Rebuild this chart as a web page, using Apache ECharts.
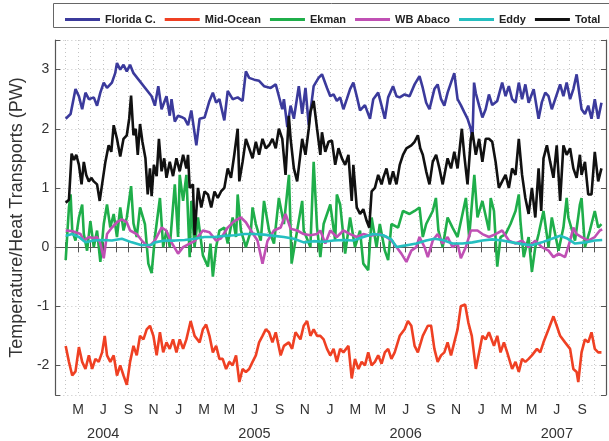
<!DOCTYPE html>
<html>
<head>
<meta charset="utf-8">
<script src="https://cdn.jsdelivr.net/npm/echarts@6/dist/echarts.min.js"></script>
<style>
  html, body { margin: 0; padding: 0; background: #fff; }
  #chart { width: 609px; height: 441px; }
</style>
</head>
<body>
<div id="chart"></div>
<script>
// time axis: months since 1 Jan 2004 (tick = month)
const monthLetters = ["J", "F", "M", "A", "M", "J", "J", "A", "S", "O", "N", "D"];
const yearTicks = { 6: "2004", 18: "2005", 30: "2006", 42: "2007" };
const yTickLabels = [-2, -1, 0, 1, 2, 3];
const seriesNames = ["Florida C.", "Mid-Ocean", "Ekman", "WB Abaco", "Eddy", "Total"];

// [month, PW]
const florida = [[3.02,2.17],[3.41,2.25],[3.80,2.67],[4.07,2.55],[4.33,2.33],[4.59,2.61],[4.86,2.5],[5.25,2.53],[5.51,2.39],[5.77,2.61],[6.04,2.78],[6.30,2.69],[6.69,2.78],[6.95,2.94],[7.09,3.11],[7.35,3.0],[7.61,3.08],[7.87,2.97],[8.13,3.08],[8.40,2.94],[9.84,2.55],[10.10,2.39],[10.37,2.72],[10.63,2.33],[11.02,2.55],[11.28,2.22],[11.42,2.5],[11.68,2.12],[11.94,2.22],[12.20,2.2],[12.46,2.17],[12.73,2.06],[12.99,2.31],[13.39,1.72],[13.65,2.17],[14.04,2.19],[14.43,2.47],[14.70,2.61],[14.96,2.44],[15.22,2.5],[15.61,2.14],[15.88,2.64],[16.27,2.5],[16.67,2.53],[17.06,2.47],[17.32,2.97],[17.58,2.86],[17.98,2.83],[18.37,2.81],[18.76,2.72],[19.29,2.69],[19.69,2.75],[19.94,2.55],[20.21,2.33],[20.34,2.5],[20.61,2.03],[20.87,2.39],[21.13,2.17],[21.52,2.72],[21.79,2.25],[22.05,2.69],[22.31,2.06],[22.70,2.72],[23.09,2.86],[23.36,2.92],[23.76,2.69],[24.02,2.55],[24.28,2.58],[24.54,2.47],[24.80,2.53],[25.06,2.33],[25.33,2.5],[25.59,2.67],[25.85,2.78],[26.12,2.55],[26.38,2.31],[26.77,2.4],[27.17,2.17],[27.43,2.5],[27.82,2.61],[28.09,2.39],[28.35,2.17],[28.61,2.53],[29.00,2.72],[29.27,2.55],[29.53,2.53],[29.92,2.58],[30.31,2.55],[30.71,2.75],[31.10,2.89],[31.36,2.69],[31.63,2.44],[31.89,2.33],[32.28,2.67],[32.54,2.75],[32.81,2.5],[33.07,2.39],[33.33,2.61],[33.60,2.78],[33.86,2.94],[34.12,2.5],[34.38,2.4],[34.65,2.28],[34.91,2.17],[35.17,2.0],[35.30,1.81],[35.43,2.78],[35.57,2.6],[35.83,2.39],[36.09,2.19],[36.35,2.33],[36.61,2.58],[36.87,2.4],[37.27,2.47],[37.66,2.78],[37.93,2.55],[38.19,2.72],[38.45,2.5],[38.72,2.44],[38.98,2.78],[39.24,2.5],[39.50,2.75],[39.76,2.44],[40.16,2.67],[40.55,2.17],[40.81,2.45],[41.08,2.61],[41.34,2.55],[41.60,2.33],[41.87,2.5],[42.26,2.75],[42.52,2.55],[42.78,2.78],[43.05,2.5],[43.31,2.67],[43.57,2.92],[43.96,2.33],[44.23,2.25],[44.49,2.39],[44.75,2.17],[45.01,2.5],[45.28,2.17],[45.54,2.44]];

const midOcean = [[3.02,-1.67],[3.28,-1.94],[3.54,-2.17],[3.80,-2.1],[4.07,-1.69],[4.33,-1.94],[4.59,-2.06],[4.86,-1.83],[5.12,-2.06],[5.38,-1.89],[5.64,-1.94],[5.91,-1.78],[6.12,-1.5],[6.30,-1.83],[6.56,-1.94],[6.83,-1.83],[7.09,-2.17],[7.35,-2.0],[7.61,-2.17],[7.87,-2.33],[8.13,-1.94],[8.40,-1.67],[8.66,-1.83],[8.92,-1.5],[9.19,-1.56],[9.45,-1.39],[9.71,-1.33],[9.98,-1.5],[10.24,-1.83],[10.50,-1.44],[10.76,-1.78],[11.02,-1.61],[11.28,-1.72],[11.54,-1.56],[11.81,-1.78],[12.07,-1.56],[12.34,-1.72],[12.60,-1.56],[12.94,-1.25],[13.25,-1.5],[13.65,-1.61],[13.91,-1.39],[14.17,-1.31],[14.43,-1.5],[14.70,-1.78],[14.96,-1.67],[15.22,-1.89],[15.48,-1.89],[15.75,-2.06],[16.01,-1.94],[16.27,-2.0],[16.54,-1.83],[16.80,-2.28],[17.06,-2.06],[17.32,-2.11],[17.58,-2.06],[17.85,-1.94],[18.11,-1.83],[18.37,-1.61],[18.64,-1.5],[18.90,-1.39],[19.16,-1.44],[19.43,-1.61],[19.69,-1.44],[20.08,-1.83],[20.34,-1.67],[20.73,-1.61],[20.99,-1.72],[21.26,-1.44],[21.65,-1.56],[21.91,-1.33],[22.18,-1.25],[22.44,-1.5],[22.70,-1.39],[22.97,-1.5],[23.23,-1.5],[23.49,-1.56],[23.76,-1.72],[24.02,-1.83],[24.28,-1.72],[24.54,-1.94],[24.80,-1.72],[25.06,-1.78],[25.46,-1.67],[25.72,-2.22],[25.98,-1.89],[26.25,-2.06],[26.51,-1.94],[26.77,-2.0],[27.03,-1.78],[27.30,-2.0],[27.56,-1.94],[27.82,-1.83],[28.09,-1.97],[28.35,-1.78],[28.61,-1.72],[28.87,-1.89],[29.13,-1.78],[29.53,-1.5],[29.92,-1.39],[30.18,-1.25],[30.45,-1.33],[30.71,-1.67],[30.97,-1.78],[31.36,-1.5],[31.76,-1.33],[32.02,-1.33],[32.28,-1.72],[32.54,-1.94],[32.81,-1.83],[33.07,-1.78],[33.33,-1.61],[33.60,-1.83],[33.86,-1.61],[34.12,-1.39],[34.38,-1.0],[34.72,-0.97],[34.98,-1.28],[35.25,-1.5],[35.57,-2.06],[35.83,-1.78],[36.09,-1.5],[36.35,-1.56],[36.61,-1.44],[37.01,-1.67],[37.27,-1.5],[37.53,-1.78],[37.80,-1.61],[38.06,-1.78],[38.45,-2.06],[38.72,-1.94],[38.98,-2.11],[39.24,-1.89],[39.50,-1.94],[39.76,-1.89],[40.02,-1.83],[40.42,-1.72],[40.68,-1.78],[40.94,-1.61],[41.34,-1.39],[41.73,-1.17],[41.99,-1.33],[42.26,-1.5],[42.65,-1.61],[43.05,-1.72],[43.31,-2.06],[43.57,-2.11],[43.70,-2.28],[43.96,-1.78],[44.23,-1.56],[44.49,-1.61],[44.75,-1.44],[45.01,-1.72],[45.28,-1.78],[45.54,-1.78]];

const ekman = [[3.02,-0.22],[3.28,0.67],[3.41,0.89],[3.54,0.28],[3.80,0.11],[4.07,0.5],[4.33,0.72],[4.46,0.22],[4.72,-0.06],[4.98,0.44],[5.25,0],[5.51,0.28],[5.77,-0.25],[6.04,0.39],[6.30,0.72],[6.56,0.33],[6.83,0.56],[7.09,0.17],[7.35,0.67],[7.61,0.28],[7.87,0.5],[8.21,1.03],[8.40,0.4],[8.66,0.17],[8.92,0.67],[9.31,0.39],[9.58,-0.28],[9.84,-0.44],[10.10,0.17],[10.50,0.83],[10.76,0],[11.02,0.28],[11.28,0],[11.68,1.06],[11.94,0.17],[12.07,1.22],[12.34,0.78],[12.60,1.22],[12.86,-0.17],[12.99,0.78],[13.25,0],[13.52,0.5],[13.91,-0.14],[14.31,-0.33],[14.51,0.06],[14.70,-0.5],[14.96,0],[15.22,0.28],[15.61,0.33],[15.88,0.06],[16.27,0.5],[16.54,0.17],[16.67,0.89],[16.93,0.28],[17.32,0],[17.72,0.28],[17.85,0.67],[18.11,0.39],[18.50,0.11],[18.76,0.78],[19.16,0.28],[19.55,0.06],[19.94,0.83],[20.34,0.39],[20.74,1.22],[20.95,-0.28],[21.39,0.28],[21.79,0.78],[21.91,0.28],[22.44,0],[22.70,1.44],[22.97,0.33],[23.23,-0.17],[23.49,0.39],[24.02,0.72],[24.41,0.11],[24.54,0.89],[24.80,0.72],[25.20,-0.11],[25.59,0.5],[25.98,0],[26.38,0.28],[26.64,-0.28],[27.03,-0.39],[27.30,0.5],[27.69,0],[27.95,0.39],[28.35,-0.06],[28.61,-0.22],[28.87,0.39],[29.40,0.33],[29.79,0.61],[30.31,0.56],[30.71,0.61],[31.10,0.67],[31.36,0.17],[31.63,0.39],[32.15,0.61],[32.40,0.83],[32.60,0.28],[32.94,0],[33.33,0.5],[33.72,0.33],[34.12,0.17],[34.51,0.56],[34.78,0.83],[35.04,0.17],[35.45,1.22],[35.70,0.5],[36.09,0.78],[36.61,0.28],[36.75,0.83],[37.01,0.61],[37.27,-0.33],[37.53,0.17],[37.93,0.22],[38.32,0.39],[38.72,0.61],[38.98,0.89],[39.11,0.44],[39.37,-0.17],[39.76,0.17],[40.02,-0.42],[40.29,0],[40.55,0.22],[40.94,0.61],[41.34,0],[41.60,0.5],[42.13,-0.06],[42.52,0.33],[42.78,0.83],[42.91,0.5],[43.44,0.11],[43.83,0.72],[43.96,0.83],[44.23,0],[44.62,0.28],[45.01,0.61],[45.28,0.33],[45.54,0.39]];

const wbAbaco = [[3.02,0.28],[3.54,0.27],[3.80,0.25],[4.20,0.22],[4.46,0.11],[4.86,0.17],[5.25,0.15],[5.51,0.17],[5.77,0.06],[6.04,-0.19],[6.30,0.22],[6.69,0.33],[7.09,0.42],[7.48,0.47],[7.87,0.42],[8.13,0.28],[8.66,0.22],[9.06,0.11],[9.58,0],[10.10,0.11],[10.63,0.33],[11.0,0.28],[11.42,0.08],[11.94,-0.11],[12.34,0],[12.86,0.06],[13.25,0.1],[13.91,0.28],[14.43,0.25],[14.96,0.11],[15.35,0.15],[15.88,0.33],[16.40,0.44],[16.93,0.5],[17.32,0.42],[17.72,0.28],[18.24,0.11],[18.64,-0.28],[19.03,0.1],[19.55,0.28],[20.08,0.33],[20.47,0.56],[20.87,0.31],[21.39,0.28],[21.91,0.22],[22.44,0.2],[22.97,0.22],[23.23,0.28],[23.62,0.06],[24.02,0.28],[24.54,0.17],[25.06,0.28],[25.59,0.22],[26.12,0.17],[26.64,0.22],[27.17,0.19],[27.95,0.22],[28.48,0.17],[28.87,0.11],[29.27,0],[29.66,-0.11],[30.06,-0.25],[30.45,-0.06],[30.84,0],[31.10,0.17],[31.50,0],[31.76,-0.17],[32.15,0.11],[32.54,0.22],[32.94,0.06],[33.33,0.17],[33.72,0],[34.12,0.06],[34.38,-0.19],[34.78,0],[35.17,0.28],[35.70,0.28],[36.09,0.22],[36.61,0.17],[37.14,0.22],[37.66,0.28],[38.19,0.11],[38.72,0.06],[39.24,0.11],[39.76,0],[40.29,0.11],[40.81,0],[41.34,-0.06],[41.73,-0.17],[42.13,-0.11],[42.65,-0.17],[43.05,0.11],[43.31,0.33],[43.57,0.22],[43.96,0.17],[44.49,0.11],[45.01,0.17],[45.41,0.28],[45.6,0.3]];

const eddy = [[3.02,0.19],[3.54,0.22],[4.07,0.17],[4.59,0.08],[5.25,0.11],[5.91,0.12],[6.69,0.11],[7.48,0.14],[8.27,0.08],[9.06,0.03],[9.84,0.04],[10.10,0.08],[10.89,0.11],[11.68,0.11],[12.46,0.12],[13.25,0.14],[14.04,0.17],[14.83,0.17],[15.61,0.19],[16.40,0.2],[17.19,0.22],[17.98,0.22],[18.76,0.21],[19.55,0.19],[20.34,0.17],[21.13,0.14],[21.91,0.08],[22.70,0.1],[23.49,0.09],[24.28,0.11],[25.06,0.12],[25.85,0.11],[26.64,0.17],[27.43,0.22],[28.22,0.2],[28.87,0.13],[29.27,0],[29.79,0.02],[30.31,0.04],[30.84,0.06],[31.63,0.11],[32.28,0.14],[32.94,0.12],[33.72,0.06],[34.51,0.06],[35.30,0.08],[36.09,0.11],[36.87,0.13],[37.66,0.11],[38.45,0.08],[39.24,0.05],[40.02,0.03],[40.81,0.08],[41.60,0.14],[42.26,0.19],[42.78,0.15],[43.44,0.06],[44.23,0.08],[45.01,0.11],[45.6,0.12]];

const total = [[3.02,0.75],[3.28,0.8],[3.49,1.58],[3.68,1.47],[3.86,1.56],[4.07,1.39],[4.28,1.06],[4.46,1.44],[4.65,1.22],[4.86,1.11],[5.05,1.17],[5.25,1.11],[5.51,1.06],[5.72,0.78],[5.91,1.06],[6.17,1.44],[6.43,1.72],[6.64,1.61],[6.83,2.06],[7.09,1.83],[7.35,1.53],[7.61,1.83],[7.87,1.89],[8.06,2.17],[8.21,2.56],[8.40,1.89],[8.58,2.0],[8.74,1.56],[8.92,2.08],[9.11,1.78],[9.35,1.5],[9.53,0.89],[9.71,1.33],[9.84,0.86],[10.02,1.39],[10.24,1.2],[10.42,1.83],[10.63,1.28],[10.84,1.5],[11.02,1.17],[11.28,1.44],[11.54,1.2],[11.81,1.5],[12.07,1.28],[12.34,1.56],[12.60,1.33],[12.73,1.56],[12.86,1.0],[13.12,1.06],[13.25,0.2],[13.52,1.0],[13.78,0.67],[14.04,0.94],[14.31,0.89],[14.57,0.67],[14.83,0.94],[15.09,0.83],[15.35,0.94],[15.61,1.0],[15.88,1.33],[16.14,1.17],[16.40,1.56],[16.67,2.0],[16.80,1.11],[17.06,1.44],[17.32,1.83],[17.58,1.67],[17.85,1.5],[18.11,1.78],[18.37,1.56],[18.64,1.83],[18.90,1.67],[19.16,1.72],[19.43,1.83],[19.69,1.67],[19.94,2.0],[20.21,1.83],[20.47,1.22],[20.73,2.22],[20.87,1.83],[21.13,1.33],[21.39,1.11],[21.79,1.83],[22.05,1.56],[22.31,2.0],[22.44,2.28],[22.70,2.47],[22.97,2.0],[23.23,1.56],[23.36,1.94],[23.62,1.61],[23.88,1.78],[24.15,1.8],[24.41,1.39],[24.67,1.67],[24.94,1.5],[25.20,1.39],[25.46,1.56],[25.72,0.78],[25.85,1.39],[26.12,0.67],[26.38,0.56],[26.64,0.64],[26.91,0.44],[27.11,0.33],[27.30,0.94],[27.56,1.0],[27.82,1.22],[28.09,1.06],[28.22,1.17],[28.48,1.33],[28.74,1.06],[29.00,1.28],[29.27,1.06],[29.53,1.39],[29.79,1.56],[30.06,1.67],[30.45,1.72],[30.71,1.78],[30.97,1.89],[31.16,1.67],[31.36,1.56],[31.63,1.28],[31.89,1.06],[32.15,1.44],[32.42,1.56],[32.68,1.33],[32.94,1.06],[33.33,1.5],[33.60,1.33],[33.86,1.61],[34.12,1.33],[34.46,2.0],[34.65,1.56],[34.91,1.06],[35.17,1.83],[35.30,1.94],[35.57,1.56],[35.83,1.83],[36.09,1.44],[36.35,1.83],[36.61,1.83],[36.87,1.78],[37.14,1.44],[37.40,1.0],[37.66,1.11],[37.93,1.22],[38.19,1.0],[38.45,1.33],[38.72,1.22],[38.98,1.83],[39.24,1.22],[39.50,0.83],[39.76,0.56],[40.02,1.0],[40.29,0.5],[40.55,1.33],[40.76,0.61],[40.94,1.5],[41.21,1.72],[41.47,1.44],[41.73,1.17],[41.99,1.72],[42.26,0.78],[42.52,1.72],[42.78,1.56],[43.05,1.67],[43.31,1.33],[43.57,1.17],[43.83,1.56],[43.96,1.22],[44.23,1.44],[44.49,0.89],[44.75,0.89],[45.01,1.61],[45.28,1.11],[45.54,1.33]];

const colors = ["#3b3a9c", "#ef4023", "#1fae4a", "#c050b4", "#25bfc0", "#111111"];
const seriesData = [florida, midOcean, ekman, wbAbaco, eddy, total];

const chart = echarts.init(document.getElementById("chart"));
const font = "'Liberation Sans', Arial, sans-serif";

function isWhole(v) { return Math.abs(v - Math.round(v)) < 1e-6; }

const xMin = 2.2, xMax = 45.9;
const gridLines = { show: true, lineStyle: { color: "#c4c4c4", type: [1, 3], width: 1 } };

const option = {
  animation: false,
  backgroundColor: "#fff",
  textStyle: { fontFamily: font },
  graphic: [{
    type: "rect",
    shape: { x: 53.5, y: 3.5, width: 556, height: 24 },
    style: { fill: "#fff", stroke: "#666", lineWidth: 1 },
    z: -1
  }],
  legend: {
    top: 9, left: 60, width: 548,
    icon: "rect", itemWidth: 35, itemHeight: 3, itemGap: 9,
    textStyle: { fontFamily: font, fontSize: 11, fontWeight: "bold", color: "#222" },
    data: seriesNames
  },
  grid: { left: 53, right: 1, top: 40, bottom: 41 },
  xAxis: [{
    type: "value", position: "bottom", min: xMin, max: xMax, splitNumber: 44,
    axisLine: { lineStyle: { color: "#555", width: 1.2 } },
    axisTick: { inside: true, length: 5, lineStyle: { color: "#555" } },
    splitLine: gridLines,
    axisLabel: {
      margin: 7,
      formatter: function (v) {
        if (!isWhole(v)) return "";
        const m = Math.round(v);
        const mi = ((m % 12) + 12) % 12;
        if (mi % 2 !== 0) return "";
        const letter = "{m|" + monthLetters[mi] + "}";
        return yearTicks[m] ? letter + "\n{y|" + yearTicks[m] + "}" : letter;
      },
      rich: {
        m: { fontSize: 14, color: "#333", fontFamily: font, lineHeight: 17 },
        y: { fontSize: 14.5, color: "#333", fontFamily: font, lineHeight: 22, verticalAlign: "bottom" }
      }
    }
  }, {
    type: "value", position: "top", min: xMin, max: xMax, splitNumber: 44,
    axisLine: { lineStyle: { color: "#555", width: 1.2 } },
    axisTick: { inside: true, length: 5, lineStyle: { color: "#555" } },
    splitLine: { show: false },
    axisLabel: { show: false }
  }],
  yAxis: [{
    type: "value", min: -2.5, max: 3.5, splitNumber: 6,
    name: "Temperature/Heat Transports (PW)",
    nameLocation: "middle", nameGap: 27,
    nameTextStyle: { fontSize: 18, color: "#333", fontFamily: font },
    axisLine: { show: true, lineStyle: { color: "#555", width: 1.2 } },
    axisTick: { show: true, inside: true, length: 5, lineStyle: { color: "#555" } },
    splitLine: gridLines,
    axisLabel: {
      margin: 6, fontSize: 14, color: "#333",
      formatter: function (v) { return isWhole(v) && yTickLabels.indexOf(Math.round(v)) >= 0 ? String(Math.round(v)) : ""; }
    }
  }, {
    type: "value", position: "right", min: -2.5, max: 3.5, splitNumber: 6,
    axisLine: { show: true, lineStyle: { color: "#555", width: 1.2 } },
    axisTick: { show: true, inside: true, length: 5, lineStyle: { color: "#555" } },
    splitLine: { show: false },
    axisLabel: { show: false }
  }],
  series: seriesNames.map(function (name, i) {
    return {
      name: name, type: "line", data: seriesData[i],
      xAxisIndex: 0, yAxisIndex: 0,
      symbol: "none", smooth: false,
      lineStyle: { color: colors[i], width: 2.6 },
      itemStyle: { color: colors[i] },
      z: 2 + i
    };
  })
};

chart.setOption(option);
</script>
</body>
</html>
